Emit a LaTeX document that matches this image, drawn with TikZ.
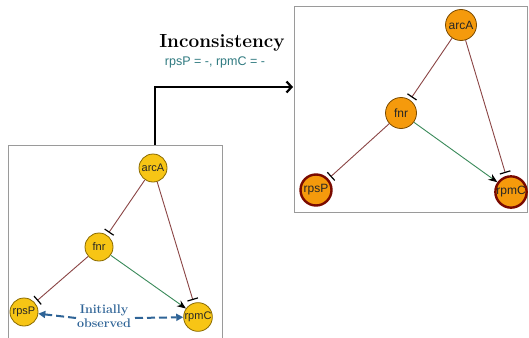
\documentclass[tikz,border=0pt]{standalone}
\usepackage{fontspec}
\setsansfont{Liberation Sans}
\usetikzlibrary{arrows.meta}
\definecolor{goldfill}{HTML}{F7C515}
\definecolor{goldline}{HTML}{8A6A00}
\definecolor{orfill}{HTML}{F59A0C}
\definecolor{orline}{HTML}{7A4A00}
\definecolor{redring}{HTML}{7A0A00}
\definecolor{inhib}{HTML}{8B4545}
\definecolor{activ}{HTML}{3A8A5A}
\definecolor{obsblue}{HTML}{2F6497}
\definecolor{teal}{HTML}{2F7A80}
\definecolor{boxgrey}{HTML}{9A9A9A}
\tikzset{
  gnode/.style={circle, draw=goldline, fill=goldfill, line width=0.8pt, minimum size=28pt, inner sep=0pt, font=\sffamily\fontsize{11}{12}\selectfont, text=black!85},
  onode/.style={circle, draw=orline, fill=orfill, line width=0.8pt, minimum size=31pt, inner sep=0pt, font=\sffamily\fontsize{12}{13}\selectfont, text=black!85},
  obsnode/.style={onode, draw=redring, line width=2.4pt},
  inh/.style={draw=inhib, line width=0.9pt, -{Bar[width=11pt,black,line width=1.2pt]}, shorten >=3pt},
  act/.style={draw=activ, line width=0.9pt, -{Stealth[black,length=9pt,width=7pt]}},
  panel/.style={draw=boxgrey, line width=1pt},
  obsarrow/.style={draw=obsblue, line width=2pt, dash pattern=on 8pt off 4pt, -{Triangle[length=7pt,width=7pt]}},
}
\begin{document}
\begin{tikzpicture}[x=1pt,y=-1pt]
\useasboundingbox (0,0) rectangle (529,337);
\clip (0,0) rectangle (529,337);
\fill[white] (0,0) rectangle (529,337);
% panels
\draw[panel] (8,145) rectangle (222,345);
\draw[panel] (294,7) rectangle (527,212);
% big arrow
\coordinate (astart) at (155,145);
\coordinate (aend) at (293,87);
\draw[line width=2.8pt, -{Straight Barb[length=5pt,width=11pt,line width=2.2pt]}] (astart) |- (aend);
\node[font=\bfseries\fontsize{19}{20}\selectfont] (title) at (222,43) {Inconsistency};
\node[font=\sffamily\fontsize{12.5}{13}\selectfont, text=teal] (sub) at (215,62) {rpsP = -, rpmC = -};
% left network
\node[gnode] (la) at (153,168) {arcA};
\node[gnode] (lf) at (99,247) {fnr};
\node[gnode] (lp) at (24,312) {rpsP};
\node[gnode] (lc) at (198,317) {rpmC};
\draw[inh] (la) -- (lf);
\draw[inh] (la) -- (lc);
\draw[inh] (lf) -- (lp);
\draw[act] (lf) -- (lc);
\node[font=\bfseries\fontsize{12.5}{13.5}\selectfont, text=obsblue, align=center] (obs) at (104,316) {Initially\\observed};
\coordinate (obsl) at (76,318);
\coordinate (obsr) at (135,318);
\draw[obsarrow] (obsl) -- (lp);
\draw[obsarrow] (obsr) -- (lc);
% right network
\node[onode] (ra) at (461,25) {arcA};
\node[onode] (rf) at (401,113) {fnr};
\node[obsnode] (rp) at (316,190) {rpsP};
\node[obsnode] (rc) at (511,192) {rpmC};
\draw[inh] (ra) -- (rf);
\draw[inh] (ra) -- (rc);
\draw[inh] (rf) -- (rp);
\draw[act] (rf) -- (rc);
\end{tikzpicture}
\end{document}
